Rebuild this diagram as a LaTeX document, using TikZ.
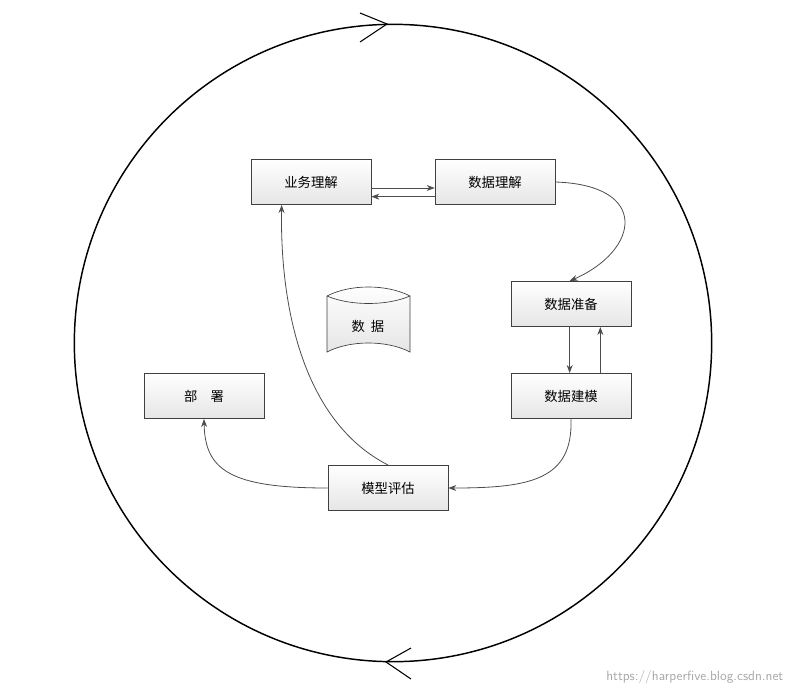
\documentclass[tikz,border=0pt]{standalone}
\usepackage{fontspec}
\newfontfamily\cjk{Noto Sans CJK SC}
\usetikzlibrary{arrows.meta}
\begin{document}
\begin{tikzpicture}[x=0.75pt,y=-0.75pt,
 box/.style={draw=black!75,line width=0.5pt,top color=white,bottom color=black!10,minimum width=90pt,minimum height=34pt,inner sep=0pt,font=\cjk\fontsize{10}{12}\selectfont},
 conn/.style={draw=black!70,line width=0.6pt,-{Stealth[length=6pt,width=4.5pt]}}]
\useasboundingbox (0,0) rectangle (795,692);
\draw[line width=1.1pt] (393,343) circle[radius=239pt];
\draw[line width=0.8pt] (360,13) -- (387,24) -- (360,42);
\draw[line width=0.8pt] (411,648) -- (386,662) -- (411,679);
\node[box] (bu) at (311,182) {业务理解};
\node[box] (du) at (495,182) {数据理解};
\node[box] (dp) at (571,304) {数据准备};
\node[box] (dm) at (571,396) {数据建模};
\node[box] (me) at (388,488) {模型评估};
\node[box] (de) at (204,396) {部\quad 署};
\draw[draw=black!75,line width=0.5pt,top color=white,bottom color=black!10] (327,296) .. controls (350,284) and (387,284) .. (410,296) -- (410,352) .. controls (387,340) and (350,340) .. (327,352) -- cycle;
\draw[draw=black!75,line width=0.5pt] (327,296) .. controls (350,306) and (387,306) .. (410,296);
\node[font=\cjk\fontsize{10}{12}\selectfont] (da) at (368,326) {数\ \ 据};
\draw[conn] ([yshift=-4.5pt]bu.east) -- ([yshift=-4.5pt]du.west);
\draw[conn] ([yshift=-11pt]du.west) -- ([yshift=-11pt]bu.west-|bu.east);
\draw[conn] (du.east) .. controls (650,185) and (640,250) .. ([xshift=-1pt]dp.north);
\draw[conn] ([xshift=-1pt]dp.south) -- ([xshift=-1pt]dm.north);
\draw[conn] ([xshift=22pt]dm.north) -- ([xshift=22pt]dp.south);
\draw[conn] (dm.south) .. controls (573,480) and (530,488) .. (me.east);
\draw[conn] (me.west) .. controls (230,488) and (205,470) .. (de.south);
\draw[conn] (me.north) .. controls (300,420) and (280,300) .. ([xshift=-22pt]bu.south);
\node[text=black!35,font=\fontsize{10}{12}\selectfont\sffamily,anchor=east] (wm) at (788,677) {https://harperfive.blog.csdn.net};
\end{tikzpicture}
\end{document}
